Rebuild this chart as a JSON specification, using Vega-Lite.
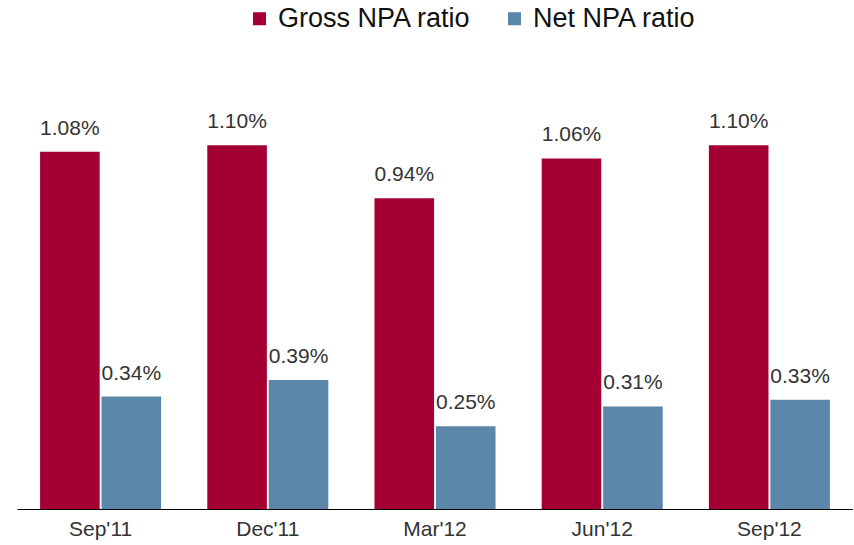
{
  "$schema": "https://vega.github.io/schema/vega-lite/v6.json",
  "autosize": "none",
  "padding": {"left": 17, "top": 46, "right": 0, "bottom": 36},
  "width": 836,
  "height": 463,
  "background": "white",
  "config": {
    "font": "Liberation Sans",
    "view": {"stroke": null}
  },
  "data": {
    "values": [
      {"period": "Sep'11", "series": "Gross NPA ratio", "value": 0.0108},
      {"period": "Sep'11", "series": "Net NPA ratio", "value": 0.0034},
      {"period": "Dec'11", "series": "Gross NPA ratio", "value": 0.0110},
      {"period": "Dec'11", "series": "Net NPA ratio", "value": 0.0039},
      {"period": "Mar'12", "series": "Gross NPA ratio", "value": 0.0094},
      {"period": "Mar'12", "series": "Net NPA ratio", "value": 0.0025},
      {"period": "Jun'12", "series": "Gross NPA ratio", "value": 0.0106},
      {"period": "Jun'12", "series": "Net NPA ratio", "value": 0.0031},
      {"period": "Sep'12", "series": "Gross NPA ratio", "value": 0.0110},
      {"period": "Sep'12", "series": "Net NPA ratio", "value": 0.0033}
    ]
  },
  "encoding": {
    "x": {
      "field": "period", "type": "nominal", "sort": null,
      "scale": {"paddingInner": 0.276, "paddingOuter": 0.138},
      "axis": {
        "title": null, "labelAngle": 0, "ticks": false, "grid": false,
        "domainColor": "#000", "domainWidth": 1.2,
        "labelFontSize": 21, "labelFontWeight": "normal", "labelColor": "#333", "labelPadding": 9
      }
    },
    "xOffset": {
      "field": "series", "type": "nominal",
      "scale": {"paddingInner": 0.03}
    },
    "y": {
      "field": "value", "type": "quantitative",
      "scale": {"domain": [0, 0.014], "nice": false},
      "axis": null
    }
  },
  "layer": [
    {
      "mark": {"type": "bar"},
      "encoding": {
        "color": {
          "field": "series", "type": "nominal",
          "scale": {"domain": ["Gross NPA ratio", "Net NPA ratio"], "range": ["#A50034", "#5B87AB"]},
          "legend": {
            "title": null, "orient": "none", "direction": "horizontal",
            "legendX": 229, "legendY": -41,
            "symbolType": "square", "symbolSize": 170, "symbolStrokeWidth": 0,
            "labelFontSize": 27, "labelColor": "#111", "labelOffset": 5,
            "labelLimit": 400, "columnPadding": 29
          }
        }
      }
    },
    {
      "mark": {"type": "text", "baseline": "alphabetic", "dy": -17, "fontSize": 21, "color": "#333"},
      "encoding": {
        "text": {"field": "value", "type": "quantitative", "format": ".2%"}
      }
    }
  ]
}
